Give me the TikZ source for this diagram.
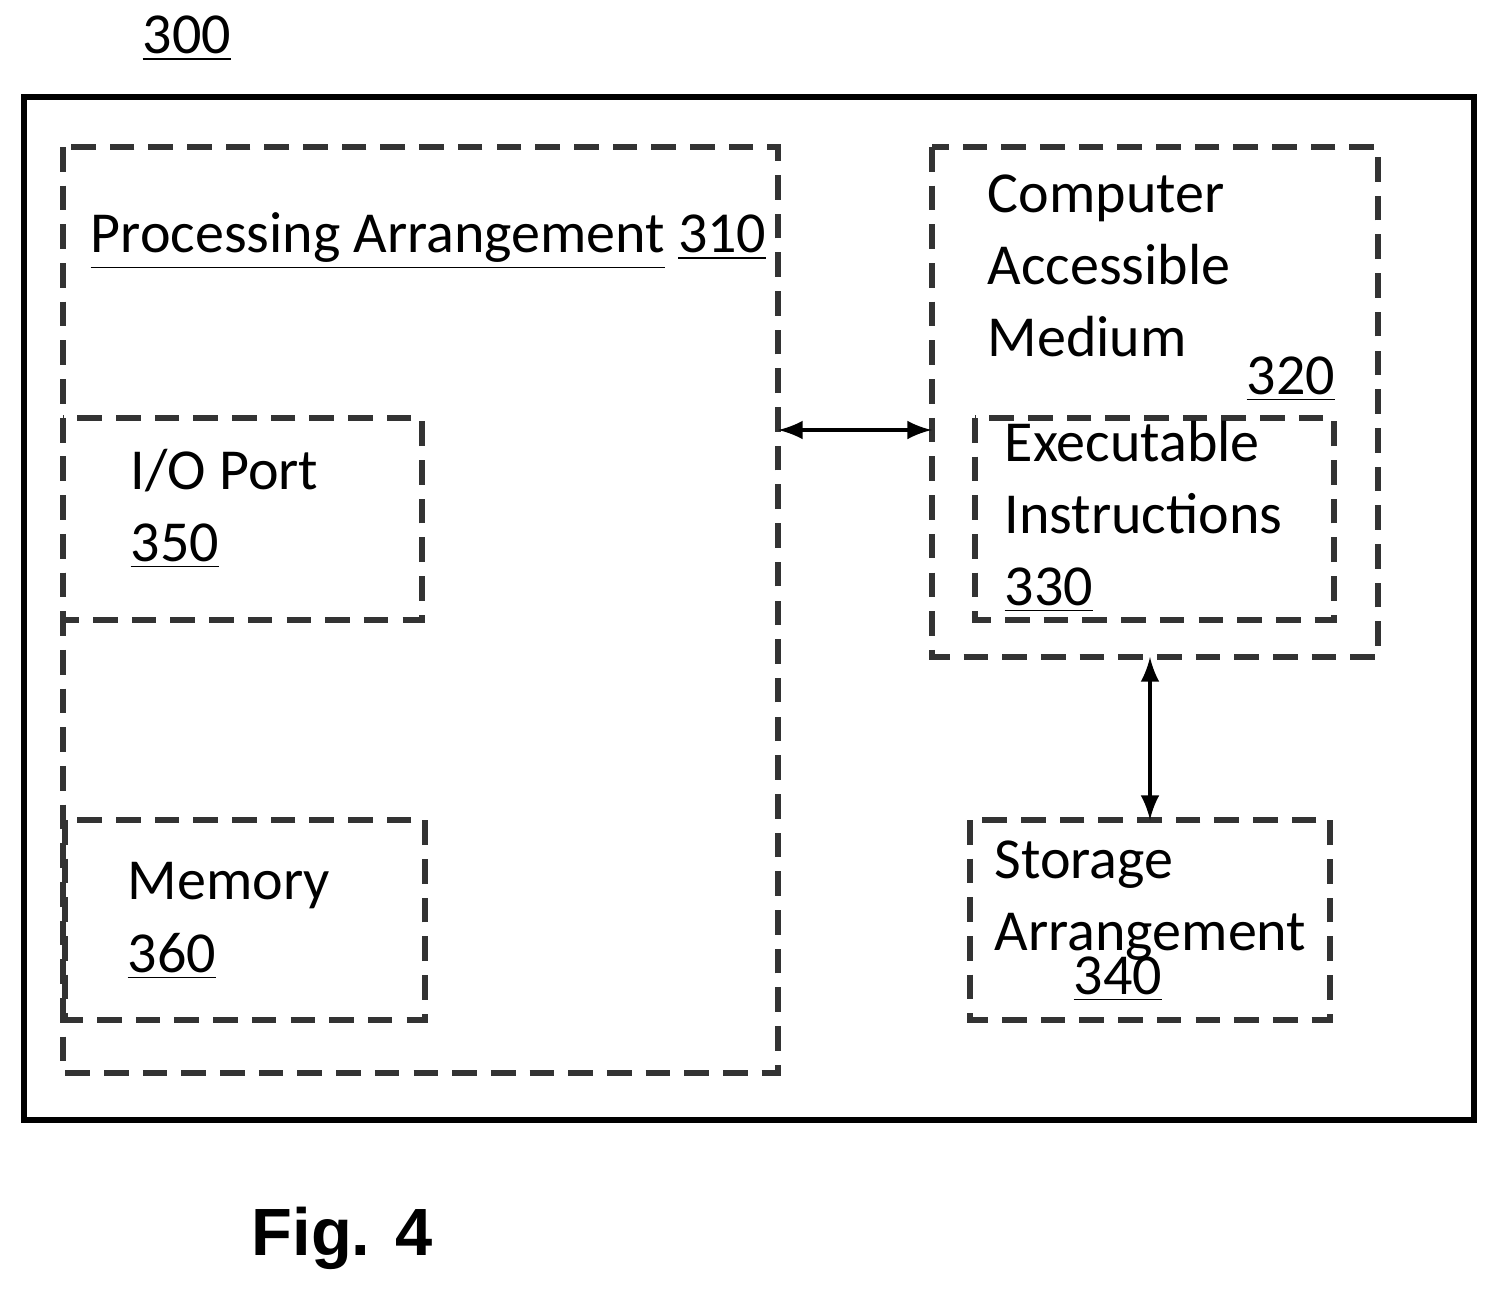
\documentclass[tikz,border=0pt]{standalone}
\usepackage{fontspec}
\setmainfont{Carlito}
\newfontfamily\figfont{Liberation Sans}
\begin{document}
\begin{tikzpicture}[x=0.01cm,y=-0.01cm,
  box/.style={draw=black!80, line width=1.6pt, dash pattern=on 7pt off 4pt},
  lbl/.style={anchor=north west, align=left, inner sep=0pt, font=\fontsize{16.5}{20.5}\selectfont},
  link/.style={line width=1.4pt, <->, >=latex}]
\useasboundingbox (0,0) rectangle (1499,1290);
\node[lbl, anchor=south west] (num) at (142,62) {\underline{300}};
% outer frame
\draw[line width=1.7pt] (24,97) rectangle (1474,1120);
% boxes
\draw[box] (63,147) rectangle (778,1073);
\draw[box] (63,418) rectangle (422,620);
\draw[box] (65,820) rectangle (425,1020);
\draw[box] (932,147) rectangle (1378,657);
\draw[box] (975,418) rectangle (1334,620);
\draw[box] (970,820) rectangle (1330,1020);
% labels
\node[lbl] (proc) at (90,212) {\underline{Processing Arrangement} \underline{310}};
\node[lbl] (io) at (130,448) {I/O Port\\\underline{350}};
\node[lbl] (mem) at (127,862) {Memory\\\underline{360}};
\node[lbl] (cam) at (987,174) {Computer\\Accessible\\Medium};
\node[lbl] (camnum) at (1246,356) {\underline{320}};
\node[lbl] (exe) at (1004,420) {Executable\\Instructions\\\underline{330}};
\node[lbl] (sto) at (994,840) {Storage\\Arrangement};
\node[lbl] (stonum) at (1073,956) {\underline{340}};
\node[font=\figfont\bfseries\fontsize{19}{23}\selectfont] (fig) at (342,1238) {Fig. 4};
% connectors
\coordinate (pr) at (778,430);
\coordinate (cl) at (932,430);
\coordinate (cb) at (1150,657);
\coordinate (st) at (1150,820);
\draw[link] (pr) -- (cl);
\draw[link] (cb) -- (st);
\end{tikzpicture}
\end{document}
